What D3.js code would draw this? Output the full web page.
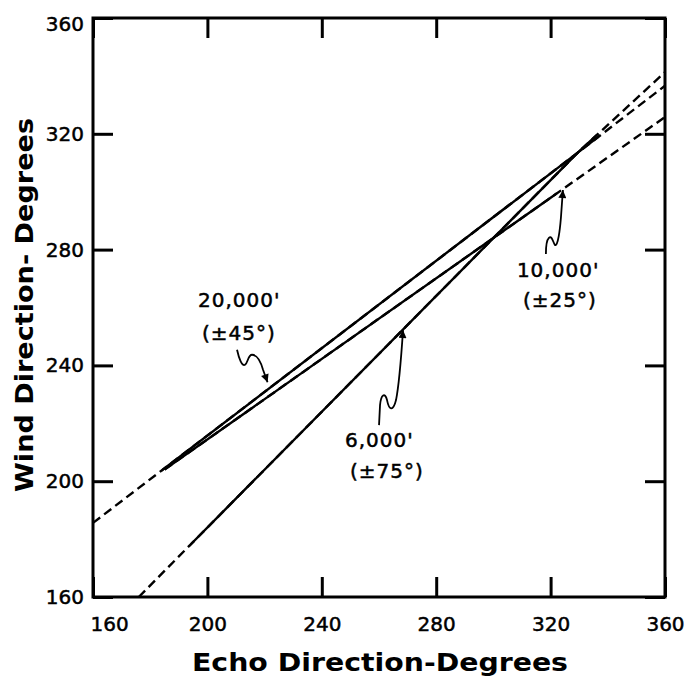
<!DOCTYPE html>
<html>
<head>
<meta charset="utf-8">
<script src="https://cdn.jsdelivr.net/npm/d3@7"></script>
<style>
  html, body { margin: 0; padding: 0; background: #fff; }
  svg { display: block; }
  text { font-family: "DejaVu Sans", sans-serif; fill: #000; }
  .thick { stroke: #000; stroke-width: 0.5px; }
</style>
</head>
<body>
<svg id="chart" width="690" height="678"></svg>
<script>
// ---------- data ----------
const tickValues = [160, 200, 240, 280, 320, 360];
const xTitle = "Echo Direction-Degrees";
const yTitle = "Wind Direction- Degrees";

// 20,000' line (±45°)
const echo20k = [160, 329.5, 360];
const wind20k = [185.6, 313.5, 336.6];
const observed20k = [184, 337];

// 10,000' line (±25°)
const echo10k = [185, 322, 360];
const wind10k = [204, 299.3, 325.8];
const observed10k = [185, 322];

// 6,000' line (±75°)
const echo6k = [176, 329.5, 360];
const wind6k = [160, 313.5, 341.3];
const observed6k = [194, 336];

const seriesNames = ["20,000'", "10,000'", "6,000'"];
const seriesSpread = ["(±45°)", "(±25°)", "(±75°)"];
const arrowTipEcho = [221.2, 324.3, 268.4];
const arrowTipWind = [234, 300.6, 252.2];

// ---------- layout ----------
const svg = d3.select("#chart");
const x = d3.scaleLinear().domain([160, 360]).range([93, 665]);
const y = d3.scaleLinear().domain([160, 360]).range([597, 18]);

const tickLen = 20;

// bottom axis with labels
const gB = svg.append("g").attr("transform", `translate(0,${y(160)})`)
  .call(d3.axisBottom(x).tickValues(tickValues).tickSizeInner(-tickLen).tickSizeOuter(0).tickPadding(20).tickFormat(d3.format("d")));
gB.selectAll("text").style("font-size", "20px").classed("thick", true);
gB.selectAll(".tick").filter(d => d === 160).select("text").attr("text-anchor", "start").attr("x", -3);

// left axis with labels
const gL = svg.append("g").attr("transform", `translate(${x(160)},0)`)
  .call(d3.axisLeft(y).tickValues(tickValues).tickSizeInner(-tickLen).tickSizeOuter(0).tickPadding(9).tickFormat(d3.format("d")));
gL.selectAll("text").style("font-size", "20px").classed("thick", true);
gL.selectAll(".tick").filter(d => d === 360).select("text").attr("dy", "0.62em");

// top & right axes (ticks only)
svg.append("g").attr("transform", `translate(0,${y(360)})`)
  .call(d3.axisTop(x).tickValues(tickValues).tickSizeInner(-tickLen).tickSizeOuter(0).tickFormat(""));
svg.append("g").attr("transform", `translate(${x(360)},0)`)
  .call(d3.axisRight(y).tickValues(tickValues).tickSizeInner(-tickLen).tickSizeOuter(0).tickFormat(""));

svg.selectAll(".domain").remove();
svg.selectAll(".tick line").attr("stroke", "#000").attr("stroke-width", 3);

// frame
svg.append("rect")
  .attr("x", x(160)).attr("y", y(360))
  .attr("width", x(360) - x(160)).attr("height", y(160) - y(360))
  .attr("fill", "none").attr("stroke", "#000").attr("stroke-width", 3);

// ---------- lines ----------
const line = d3.line().x(d => x(d[0])).y(d => y(d[1]));
const series = [
  { echo: echo20k, wind: wind20k, obs: observed20k },
  { echo: echo10k, wind: wind10k, obs: observed10k },
  { echo: echo6k, wind: wind6k, obs: observed6k }
];
const defs = svg.append("defs");
series.forEach((s, i) => {
  const pts = s.echo.map((e, j) => [e, s.wind[j]]);
  // full line dashed (extrapolation)
  svg.append("path").attr("d", line(pts)).attr("fill", "none")
    .attr("stroke", "#000").attr("stroke-width", 2.4)
    .attr("stroke-dasharray", "9,5");
  // observed part solid
  const cid = "clip" + i;
  defs.append("clipPath").attr("id", cid).append("rect")
    .attr("x", x(s.obs[0])).attr("y", 0)
    .attr("width", x(s.obs[1]) - x(s.obs[0])).attr("height", 678);
  svg.append("path").attr("d", line(pts)).attr("fill", "none")
    .attr("stroke", "#000").attr("stroke-width", 2.4)
    .attr("clip-path", `url(#${cid})`);
});

// ---------- annotations ----------
defs.append("marker").attr("id", "arrow")
  .attr("viewBox", "0 0 10 10").attr("refX", 10).attr("refY", 5)
  .attr("markerUnits", "userSpaceOnUse").attr("markerWidth", 11).attr("markerHeight", 8)
  .attr("orient", "auto")
  .append("path").attr("d", "M0,0 L10,5 L0,10 z").attr("fill", "#000");

const squiggles = [
  "M-31,-33 C-29,-24 -26,-16 -23,-18 C-20,-20 -20,-28 -16,-28 C-11,-28 -7,-20 -5,-13 L-0.5,-0.5",
  "M-17,64 C-17,56 -16,50 -14,48 C-11,45 -10,52 -8,55 C-5,57 -3,40 -2,28 L0,0",
  "M-24,95 L-23,75 C-22,64 -18,62 -16,70 C-14,80 -10,82 -7,70 C-4,55 -2,30 0,0"
];
const labelOffsets = [[-70, -76, -66, -43], [-46, 87, -40, 117], [-58, 117, -53, 148]];

series.forEach((s, i) => {
  const tx = x(arrowTipEcho[i]), ty = y(arrowTipWind[i]);
  const g = svg.append("g").attr("transform", `translate(${tx},${ty})`);
  g.append("path").attr("d", squiggles[i]).attr("fill", "none")
    .attr("stroke", "#000").attr("stroke-width", 1.8)
    .attr("marker-end", "url(#arrow)");
  const o = labelOffsets[i];
  g.append("text").attr("x", o[0]).attr("y", o[1]).classed("thick", true)
    .style("font-size", "20px").style("letter-spacing", "1px").text(seriesNames[i]);
  g.append("text").attr("x", o[2]).attr("y", o[3]).classed("thick", true)
    .style("font-size", "20px").style("letter-spacing", "1px").text(seriesSpread[i]);
});

// ---------- titles ----------
svg.append("text").attr("x", 192).attr("y", 671)
  .attr("textLength", 376).attr("lengthAdjust", "spacingAndGlyphs")
  .style("font-size", "25px").style("font-weight", "bold").text(xTitle);

svg.append("text")
  .attr("transform", "translate(33,492) rotate(-90)")
  .attr("x", 0).attr("y", 0)
  .attr("textLength", 374).attr("lengthAdjust", "spacingAndGlyphs")
  .style("font-size", "25px").style("font-weight", "bold").text(yTitle);
</script>
</body>
</html>
